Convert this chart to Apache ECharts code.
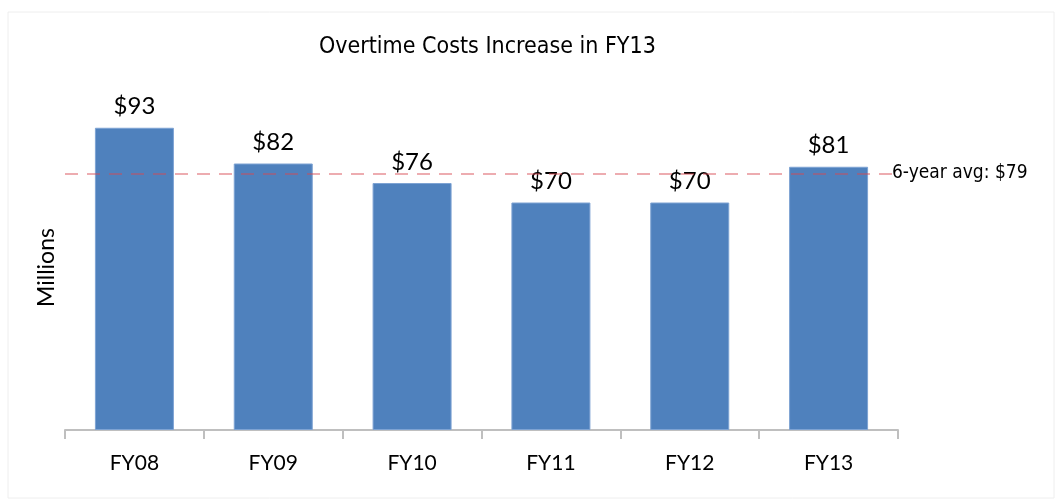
<!DOCTYPE html>
<html>
<head>
<meta charset="utf-8">
<script src="https://cdn.jsdelivr.net/npm/echarts@6/dist/echarts.min.js"></script>
<style>
  html, body { margin: 0; padding: 0; background: #fff; }
  #chart { width: 1057px; height: 500px; }
</style>
</head>
<body>
<div id="chart"></div>
<script>
var categories = ['FY08', 'FY09', 'FY10', 'FY11', 'FY12', 'FY13'];
var costs = [93, 82, 76, 70, 70, 81];
var average = 79;

var myChart = echarts.init(document.getElementById('chart'));

var narrow = 'DejaVu Sans Condensed';

var option = {
  animation: false,
  title: {
    text: 'Overtime Costs Increase in FY13',
    left: 314,
    top: 31,
    textStyle: {
      fontFamily: narrow,
      fontWeight: 'normal',
      fontSize: 23,
      color: '#000'
    }
  },
  graphic: [{
    type: 'rect',
    shape: { x: 8, y: 12, width: 1046, height: 486 },
    style: { fill: 'none', stroke: '#eeeeee', lineWidth: 1 },
    silent: true
  }],
  grid: {
    left: 65,
    right: 159,
    top: 105,
    bottom: 70
  },
  xAxis: {
    type: 'category',
    data: categories,
    axisLine: { show: true, lineStyle: { color: '#bfbfbf', width: 2 } },
    axisTick: { show: true, length: 9, lineStyle: { color: '#bfbfbf', width: 2 } },
    axisLabel: {
      color: '#000',
      fontFamily: 'Lato',
      fontSize: 21,
      margin: 23
    }
  },
  yAxis: {
    type: 'value',
    min: 0,
    max: 100,
    name: 'Millions',
    nameLocation: 'middle',
    nameGap: 7,
    nameTextStyle: { color: '#000', fontFamily: 'Lato', fontSize: 23 },
    axisLine: { show: false },
    axisTick: { show: false },
    axisLabel: { show: false },
    splitLine: { show: false }
  },
  series: [{
    type: 'bar',
    data: costs,
    barWidth: 79,
    itemStyle: {
      color: '#4f81bd',
      borderColor: '#7ea3d3',
      borderWidth: 1
    },
    label: {
      show: true,
      position: 'top',
      distance: 9,
      formatter: function (p) { return '$' + p.value; },
      color: '#000',
      fontFamily: 'Lato',
      fontSize: 24
    },
    markLine: {
      silent: true,
      symbol: ['none', 'none'],
      lineStyle: {
        color: 'rgba(215, 70, 80, 0.45)',
        type: [13, 9],
        width: 2
      },
      label: {
        position: 'end',
        distance: -6,
        formatter: '6-year avg: $' + average,
        color: '#000',
        fontFamily: narrow,
        fontSize: 19
      },
      data: [{ yAxis: average }]
    }
  }]
};

myChart.setOption(option);
</script>
</body>
</html>
